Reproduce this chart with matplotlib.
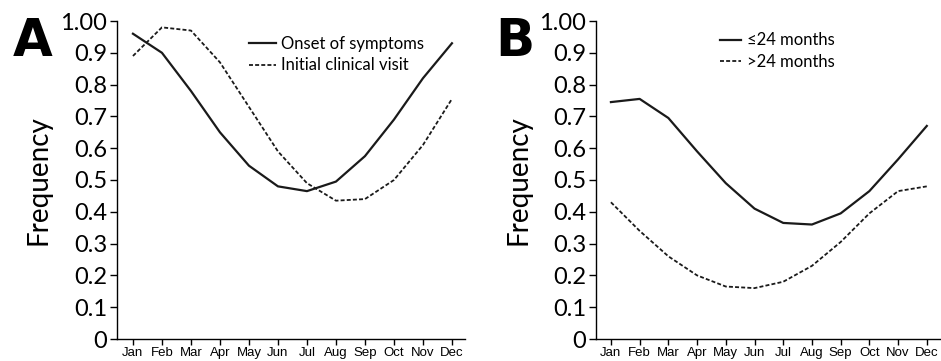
import matplotlib
matplotlib.use("Agg")
import matplotlib.pyplot as plt

months = ["Jan", "Feb", "Mar", "Apr", "May", "Jun", "Jul", "Aug", "Sep", "Oct", "Nov", "Dec"]
onset = [0.96, 0.90, 0.78, 0.65, 0.545, 0.48, 0.465, 0.495, 0.575, 0.69, 0.82, 0.93]
visit = [0.89, 0.98, 0.97, 0.87, 0.73, 0.59, 0.49, 0.435, 0.44, 0.50, 0.61, 0.755]
le24 = [0.745, 0.755, 0.695, 0.59, 0.49, 0.41, 0.365, 0.36, 0.395, 0.465, 0.565, 0.67]
gt24 = [0.43, 0.34, 0.26, 0.20, 0.165, 0.16, 0.18, 0.23, 0.305, 0.395, 0.465, 0.48]
yticks = [0, 0.1, 0.2, 0.3, 0.4, 0.5, 0.6, 0.7, 0.8, 0.9, 1.0]
ylabels = ["0", "0.1", "0.2", "0.3", "0.4", "0.5", "0.6", "0.7", "0.8", "0.9", "1.00"]

W, H = 941, 361
fig = plt.figure(figsize=(W / 100, H / 100), dpi=100)

tickfont = "Lato"
monthfont = "Liberation Sans"

def make_axes(left_px, right_px, xlim):
    ax = fig.add_axes([left_px / W, 1 - 339 / H, (right_px - left_px) / W, (339 - 21) / H])
    ax.set_xlim(*xlim)
    ax.set_ylim(0, 1.0)
    for s in ["top", "right"]:
        ax.spines[s].set_visible(False)
    for s in ["left", "bottom"]:
        ax.spines[s].set_linewidth(1.0)
    ax.set_yticks(yticks)
    ax.set_yticklabels(ylabels, fontfamily=tickfont, fontsize=17)
    ax.set_xticks(range(12))
    ax.set_xticklabels(months, fontfamily=monthfont, fontsize=9.5)
    ax.tick_params(axis="y", direction="out", length=5, width=1, pad=2)
    ax.tick_params(axis="x", direction="out", length=4, width=1, pad=1.5)
    ax.set_ylabel("Frequency", fontfamily=tickfont, fontsize=20)
    ax.yaxis.set_label_coords(-0.187, 0.5)
    return ax

x = list(range(12))

axA = make_axes(117, 465, (-0.55, 11.45))
axA.plot(x, onset, color="#1a1a1a", lw=1.6, ls="-", label="Onset of symptoms")
axA.plot(x, visit, color="#1a1a1a", lw=1.3, ls=(0, (2.2, 1.2)), label="Initial clinical visit")
axA.legend(loc="upper left", bbox_to_anchor=(0.36, 0.975), frameon=False,
           prop={"family": tickfont, "size": 12}, handlelength=1.6, handletextpad=0.35,
           labelspacing=0.35, borderaxespad=0)
fig.text(13 / W, 1 - 17 / H, "A", fontsize=37, fontweight="bold", fontfamily="DejaVu Sans",
         ha="left", va="top")

axB = make_axes(596, 940, (-0.52, 11.46))
axB.plot(x, le24, color="#1a1a1a", lw=1.6, ls="-", label="\u226424 months")
axB.plot(x, gt24, color="#1a1a1a", lw=1.3, ls=(0, (2.2, 1.2)), label=">24 months")
axB.legend(loc="upper left", bbox_to_anchor=(0.34, 0.985), frameon=False,
           prop={"family": tickfont, "size": 12}, handlelength=1.3, handletextpad=0.35,
           labelspacing=0.35, borderaxespad=0)
fig.text(495 / W, 1 - 17 / H, "B", fontsize=37, fontweight="bold", fontfamily="DejaVu Sans",
         ha="left", va="top")

fig.savefig("out.png", dpi=100)
